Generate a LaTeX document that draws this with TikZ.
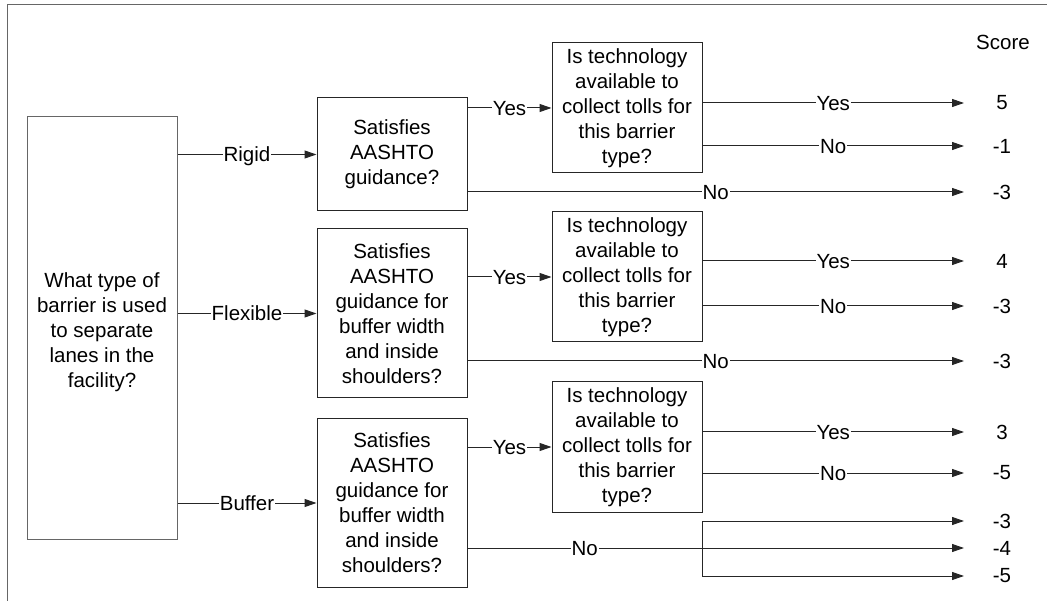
\documentclass[tikz,border=0pt]{standalone}
\usepackage{fontspec}
\setmainfont{Liberation Sans}
\usetikzlibrary{arrows.meta}
\begin{document}
\begin{tikzpicture}[x=1pt,y=-1pt,
  every node/.style={font=\fontsize{20.5}{25}\selectfont},
  qbox/.style={draw=black!85, line width=1pt, inner sep=0pt, align=center,
               minimum width=150pt},
  mainbox/.style={draw=black!60, line width=1pt, inner sep=0pt, align=center,
               minimum width=150pt},
  link/.style={draw=black!85, line width=1pt},
  arr/.style={link, -{Triangle[length=12pt,width=8pt]}},
  lab/.style={fill=white, inner sep=1pt, text height=14.7pt, text depth=0pt},
  score/.style={inner sep=0pt, anchor=center},
  frame/.style={draw=black!60, line width=1pt}]
  \useasboundingbox (0,0) rectangle (1047,601);
  % open frame: top and left edges
  \draw[frame] (7,601) -- (7,5) -- (1047,5);

  % question boxes
  \node[mainbox, minimum height=422pt,
        label={[align=center, inner sep=0pt, yshift=-4pt]center:{What type of\\barrier is used\\to separate\\lanes in the\\facility?}}]
        (main) at (102,328) {};
  \node[qbox, minimum height=113pt] (b1) at (392,154.5)
    {Satisfies\\AASHTO\\guidance?};
  \node[qbox, minimum height=169pt] (b2) at (392,313.5)
    {Satisfies\\AASHTO\\guidance for\\buffer width\\and inside\\shoulders?};
  \node[qbox, minimum height=168pt] (b3) at (392,503)
    {Satisfies\\AASHTO\\guidance for\\buffer width\\and inside\\shoulders?};
  \node[qbox, minimum height=130pt] (t1) at (627,108)
    {Is technology\\available to\\collect tolls for\\this barrier\\type?};
  \node[qbox, minimum height=130pt] (t2) at (627,277)
    {Is technology\\available to\\collect tolls for\\this barrier\\type?};
  \node[qbox, minimum height=130pt] (t3) at (627,447)
    {Is technology\\available to\\collect tolls for\\this barrier\\type?};

  % score column
  \node[score] (hdr) at (1003,42) {Score};
  \foreach \i/\y/\v in {1/103/5, 2/146/-1, 3/192/-3, 4/261/4, 5/306/-3,
                        6/361/-3, 7/432/3, 8/473/-5, 9/521/-3, 10/548/-4, 11/576/-5} {
    \node[score] (s\i) at (1002,\y) {\v};
    \coordinate (e\i) at (964,\y);
  }

  % barrier type branches
  \draw[arr] (main.east |- b1.west) -- node[lab]{Rigid} (b1.west);
  \draw[arr] (main.east |- b2.west) -- node[lab]{Flexible} (b2.west);
  \draw[arr] (main.east |- b3.west) -- node[lab]{Buffer} (b3.west);

  % guidance satisfied
  \draw[arr] (b1.east |- t1.west) -- node[lab]{Yes} (t1.west);
  \draw[arr] (b2.east |- t2.west) -- node[lab]{Yes} (t2.west);
  \draw[arr] (b3.east |- t3.west) -- node[lab]{Yes} (t3.west);

  % toll technology outcomes
  \draw[arr] (t1.east |- e1) -- node[lab]{Yes} (e1);
  \draw[arr] (t1.east |- e2) -- node[lab]{No} (e2);
  \draw[arr] (t2.east |- e4) -- node[lab]{Yes} (e4);
  \draw[arr] (t2.east |- e5) -- node[lab]{No} (e5);
  \draw[arr] (t3.east |- e7) -- node[lab]{Yes} (e7);
  \draw[arr] (t3.east |- e8) -- node[lab]{No} (e8);

  % guidance not satisfied
  \draw[arr] (b1.east |- e3) -- node[lab]{No} (e3);
  \draw[arr] (b2.east |- e6) -- node[lab]{No} (e6);

  % buffer "No" fork into three scores
  \coordinate (fa) at (702,521);
  \coordinate (fb) at (702,548);
  \coordinate (fc) at (702,576);
  \draw[link] (b3.east |- fb) -- node[lab]{No} (fb);
  \draw[link] (fa) -- (fc);
  \draw[arr] (fa) -- (e9);
  \draw[arr] (fb) -- (e10);
  \draw[arr] (fc) -- (e11);
\end{tikzpicture}
\end{document}
